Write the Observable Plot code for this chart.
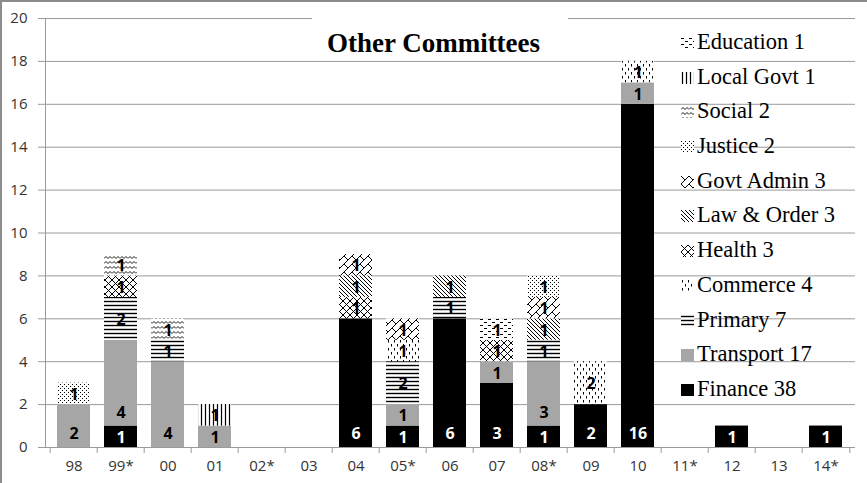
<!DOCTYPE html>
<html>
<head>
<meta charset="utf-8">
<script src="https://cdn.jsdelivr.net/npm/d3@7"></script>
<script src="https://cdn.jsdelivr.net/npm/@observablehq/plot@0.6"></script>
<style>
  body { margin: 0; background: #fff; }
  #wrap { position: relative; width: 867px; height: 483px; overflow: hidden; background: #fff; }
  #wrap svg.chart { position: absolute; left: 0; top: 0; }
  #border { position: absolute; left: 0; top: 0; width: 867px; height: 483px; box-sizing: border-box;
            border-left: 2px solid #8c8c8c; border-top: 2px solid #8c8c8c; pointer-events: none; }
  #titlebox { position: absolute; left: 312px; top: 11px; width: 256px; height: 45px; background: #fff; }
  #title { position: absolute; left: 0; top: 19px; width: 243px; text-align: center;
           font-family: "Liberation Serif", "Times New Roman", Tinos, "DejaVu Serif", serif;
           font-weight: bold; font-size: 27px; line-height: 26px; color: #000; white-space: nowrap; }
  #legend { position: absolute; left: 681px; top: 25px;
            font-family: "Liberation Serif", "Times New Roman", Tinos, "DejaVu Serif", serif;
            font-size: 22.5px; color: #000; }
  .item { position: relative; height: 34.7px; line-height: 34.7px; padding-left: 16px; white-space: nowrap; }
  .sw { position: absolute; left: 0; top: 12px; width: 13px; height: 12px; }
</style>
</head>
<body>
<svg width="0" height="0" style="position:absolute">
  <defs>
    <pattern id="p-education" width="8" height="6" patternUnits="userSpaceOnUse">
      <rect width="8" height="6" fill="#fff"/>
      <path d="M0,1.5h3M4,4.5h3" stroke="#000" stroke-width="1"/>
    </pattern>
    <pattern id="p-local" width="4" height="4" patternUnits="userSpaceOnUse">
      <rect width="4" height="4" fill="#fff"/>
      <path d="M1.5,0v4" stroke="#000" stroke-width="1.2"/>
    </pattern>
    <pattern id="p-social" width="8" height="5" patternUnits="userSpaceOnUse">
      <rect width="8" height="5" fill="#fff"/>
      <path d="M0,3.5L2,1.5L4,3.5L6,1.5L8,3.5" stroke="#000" stroke-width="0.9" fill="none"/>
    </pattern>
    <pattern id="p-justice" width="4" height="4" patternUnits="userSpaceOnUse">
      <rect width="4" height="4" fill="#fff"/>
      <rect x="0" y="0" width="1" height="1" fill="#000"/>
      <rect x="2" y="2" width="1" height="1" fill="#000"/>
    </pattern>
    <pattern id="p-govt" width="8" height="8" patternUnits="userSpaceOnUse">
      <rect width="8" height="8" fill="#fff"/>
      <path d="M-1,9L9,-1M0,0L4,4" stroke="#000" stroke-width="1" fill="none"/>
    </pattern>
    <pattern id="p-law" width="4" height="4" patternUnits="userSpaceOnUse">
      <rect width="4" height="4" fill="#fff"/>
      <path d="M-1,-1L5,5M-1,3L1,5M3,-1L5,1" stroke="#000" stroke-width="1" fill="none"/>
    </pattern>
    <pattern id="p-health" width="7" height="7" patternUnits="userSpaceOnUse">
      <rect width="7" height="7" fill="#fff"/>
      <path d="M0,0L7,7M7,0L0,7" stroke="#000" stroke-width="1" fill="none"/>
    </pattern>
    <pattern id="p-commerce" width="6" height="8" patternUnits="userSpaceOnUse">
      <rect width="6" height="8" fill="#fff"/>
      <path d="M1.5,0v2.5M4.5,4v2.5" stroke="#000" stroke-width="1" fill="none"/>
    </pattern>
    <pattern id="p-primary" width="4" height="4" patternUnits="userSpaceOnUse">
      <rect width="4" height="4" fill="#fff"/>
      <path d="M0,1.5h4" stroke="#000" stroke-width="1.4"/>
    </pattern>
  </defs>
</svg>
<div id="wrap">
  <div id="titlebox"><div id="title">Other Committees</div></div>
  <div id="legend"></div>
  <div id="border"></div>
</div>
<script>
// ---- data ----
const years = ["98","99*","00","01","02*","03","04","05*","06","07","08*","09","10","11*","12","13","14*"];
const yTicks = [0, 2, 4, 6, 8, 10, 12, 14, 16, 18, 20];

const finance    = [0,1,0,0,0,0,6,1,6,3,1,2,16,0,1,0,1];
const transport  = [2,4,4,1,0,0,0,1,0,1,3,0,1,0,0,0,0];
const primary    = [0,2,1,0,0,0,0,2,1,0,1,0,0,0,0,0,0];
const commerce   = [0,0,0,0,0,0,0,1,0,0,0,2,1,0,0,0,0];
const health     = [0,1,0,0,0,0,1,0,0,1,0,0,0,0,0,0,0];
const lawOrder   = [0,0,0,0,0,0,1,0,1,0,1,0,0,0,0,0,0];
const govtAdmin  = [0,0,0,0,0,0,1,1,0,0,1,0,0,0,0,0,0];
const justice    = [1,0,0,0,0,0,0,0,0,0,1,0,0,0,0,0,0];
const social     = [0,1,1,0,0,0,0,0,0,0,0,0,0,0,0,0,0];
const localGovt  = [0,0,0,1,0,0,0,0,0,0,0,0,0,0,0,0,0];
const education  = [0,0,0,0,0,0,0,0,0,1,0,0,0,0,0,0,0];

// stacking order, bottom to top
const committees = ["Finance","Transport","Primary","Commerce","Health","Law & Order","Govt Admin","Justice","Social","Local Govt","Education"];
const seriesList = [finance, transport, primary, commerce, health, lawOrder, govtAdmin, justice, social, localGovt, education];
const fillList = ["#000000","#a6a6a6","url(#p-primary)","url(#p-commerce)","url(#p-health)","url(#p-law)","url(#p-govt)","url(#p-justice)","url(#p-social)","url(#p-local)","url(#p-education)"];

const fills = {};
committees.forEach((c, k) => fills[c] = fillList[k]);

const rows = [];
years.forEach((yr, i) => {
  let acc = 0;
  committees.forEach((c, k) => {
    const v = seriesList[k][i];
    if (v > 0) { rows.push({year: yr, cat: c, value: v, y1: acc, y2: acc + v}); acc += v; }
  });
});

const baseAnchored = d => (d.cat === "Finance" || d.cat === "Transport") && d.value >= 2;
const baseRows = rows.filter(baseAnchored);
const midRows = rows.filter(d => !baseAnchored(d));

// ---- layout ----
const W = 867, H = 483, mL = 45, mR = 12, mT = 18, mB = 36;
const step = (W - mL - mR) / years.length;
const axisColor = "#9a9a9a";

const chart = Plot.plot({
  width: W, height: H,
  marginLeft: mL, marginRight: mR, marginTop: mT, marginBottom: mB,
  style: {fontFamily: "'Open Sans', sans-serif", fontSize: "15px", color: "#333", background: "transparent", overflow: "visible"},
  x: {domain: years, paddingInner: 0.29, paddingOuter: 0.145, label: null},
  y: {domain: [0, 20], label: null},
  marks: [
    Plot.gridY(yTicks, {stroke: axisColor, strokeOpacity: 1}),
    Plot.axisY(yTicks, {tickSize: 7, tickPadding: 11, stroke: axisColor, label: null}),
    Plot.barY(rows, {x: "year", y1: "y1", y2: "y2", fill: d => fills[d.cat]}),
    Plot.ruleY([0], {stroke: axisColor}),
    Plot.frame({anchor: "left", stroke: axisColor}),
    Plot.axisX(years, {tickSize: 6, dx: -step / 2, tickFormat: () => "", stroke: axisColor, label: null}),
    Plot.axisX([years[years.length - 1]], {tickSize: 6, dx: step / 2, tickFormat: () => "", stroke: axisColor, label: null}),
    Plot.axisX(years, {tickSize: 0, tickPadding: 13, label: null}),
    Plot.text(baseRows, {x: "year", y: "y1", dy: -13.5, text: d => String(d.value),
      fill: d => d.cat === "Finance" ? "#fff" : "#000", fontWeight: "bold", fontSize: 16}),
    Plot.text(midRows, {x: "year", y: d => (d.y1 + d.y2) / 2, dy: 1, text: d => String(d.value),
      fill: d => d.cat === "Finance" ? "#fff" : "#000", fontWeight: "bold", fontSize: 16})
  ]
});
chart.classList.add("chart");
const wrap = document.getElementById("wrap");
wrap.insertBefore(chart, wrap.firstChild);

// ---- legend (top to bottom = reverse stacking order) ----
const legend = document.getElementById("legend");
committees.slice().reverse().forEach(c => {
  const k = committees.indexOf(c);
  const total = d3.sum(seriesList[k]);
  const item = document.createElement("div");
  item.className = "item";
  item.innerHTML = `<svg class="sw" width="13" height="12"><rect width="13" height="12" fill="${fills[c]}"/></svg>`;
  item.appendChild(document.createTextNode(`${c} ${total}`));
  legend.appendChild(item);
});
</script>
</body>
</html>
